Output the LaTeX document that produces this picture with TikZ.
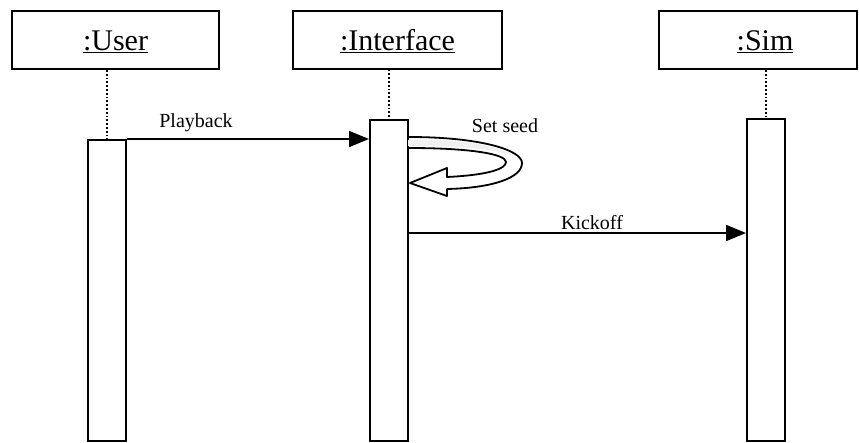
\documentclass[tikz,border=0pt]{standalone}
\usepackage{fontspec}
\setmainfont{Liberation Serif}
\usetikzlibrary{arrows.meta}
\begin{document}
\begin{tikzpicture}[x=1pt,y=-1pt,
  obj/.style={draw,line width=2pt,minimum width=#1,minimum height=58pt,inner sep=0pt},
  act/.style={draw,line width=2pt,fill=white,minimum width=38pt,minimum height=#1,inner sep=0pt,anchor=north},
  life/.style={line width=1.8pt,dotted},
  msg/.style={line width=1.8pt,-{Triangle[length=20pt,width=16pt]}},
  lbl/.style={font=\fontsize{20}{22}\selectfont,inner sep=0pt,anchor=base},
  ttl/.style={font=\fontsize{30}{32}\selectfont,inner sep=0pt,anchor=base}]
\useasboundingbox (0,0) rectangle (859,442);
% object boxes
\node[obj=207pt] (user) at (115.5,40) {};
\node[obj=209pt] (intf) at (397.5,39.5) {};
\node[obj=198pt] (sim) at (758,40) {};
\node[ttl] (userlbl) at (115.5,50) {\underline{:User}};
\node[ttl] (intflbl) at (397.5,50) {\underline{:Interface}};
\node[ttl] (simlbl) at (765,50) {\underline{:Sim}};
% activation boxes
\node[act=301pt] (uact) at (107,139) {};
\node[act=321pt] (iact) at (389,119) {};
\node[act=322pt] (sact) at (766,118) {};
% lifelines
\draw[life] (uact.north |- user.south) -- (uact.north);
\draw[life] (iact.north |- intf.south) -- (iact.north);
\draw[life] (sact.north |- sim.south) -- (sact.north);
% playback
\draw[msg] (uact.north east) -- (uact.north east -| iact.west);
\node[lbl] (pbl) at (196,127) {Playback};
% set seed self message
\fill[gray!12] (408,140) .. controls (470,139) and (505,148) .. (512,156)
  .. controls (500,150) and (470,146) .. (408,146) -- cycle;
\draw[line width=1.8pt,line join=round]
  (iact.east |- 0,137) .. controls (480,137) and (522,150) .. (522,163)
  .. controls (522,178) and (492,188) .. (447,189) -- (447,196) -- (410,183)
  -- (447,168) -- (447,177) .. controls (488,175) and (506,169) .. (506,162)
  .. controls (506,154) and (470,148) .. (iact.east |- 0,148);
\node[lbl] (ssl) at (505,132) {Set seed};
% kickoff
\coordinate (k1) at (iact.east |- 0,233);
\draw[msg] (k1) -- (k1 -| sact.west);
\node[lbl] (kol) at (592,229) {Kickoff};
\end{tikzpicture}
\end{document}
